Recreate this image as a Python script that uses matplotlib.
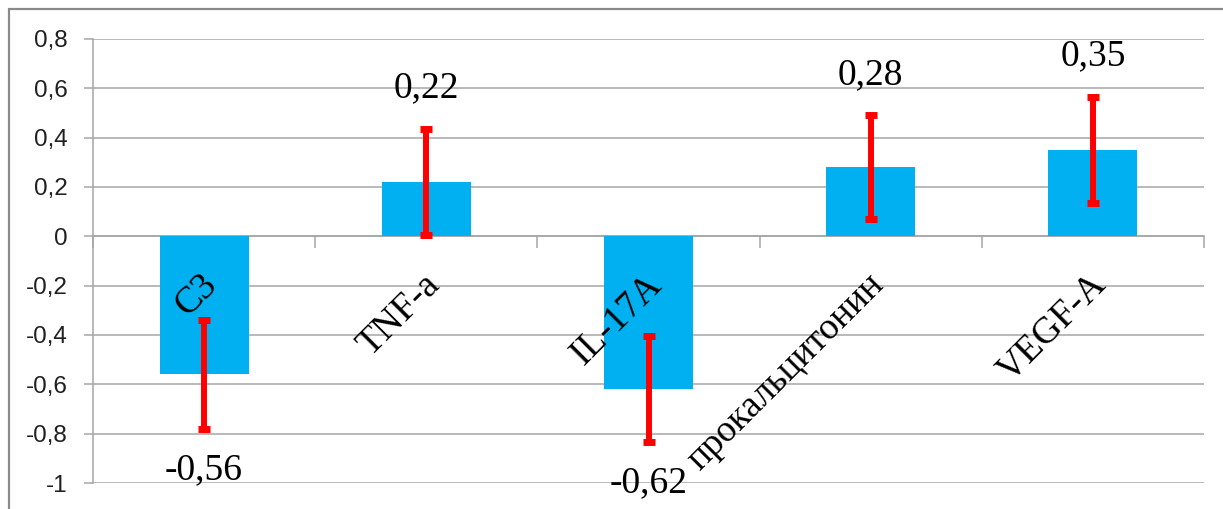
import matplotlib
matplotlib.use("Agg")
import matplotlib.pyplot as plt
from matplotlib.patches import Rectangle
from matplotlib.ticker import FixedLocator

categories = ["C3", "TNF-a", "IL-17A", "прокальцитонин", "VEGF-A"]
values = [-0.56, 0.22, -0.62, 0.28, 0.35]
errors = [0.22, 0.215, 0.215, 0.21, 0.215]
value_labels = ["-0,56", "0,22", "-0,62", "0,28", "0,35"]
yticks = [-1, -0.8, -0.6, -0.4, -0.2, 0, 0.2, 0.4, 0.6, 0.8]
ytick_labels = ["-1", "-0,8", "-0,6", "-0,4", "-0,2", "0", "0,2", "0,4", "0,6", "0,8"]

W, H = 1223, 509
fig = plt.figure(figsize=(W / 100, H / 100), dpi=100)
fig.patch.set_facecolor("white")

# outer chart frame (left and top visible, rest beyond image)
fig.patches.append(Rectangle((9 / W, -0.2), 1.5, (H - 9) / H + 0.2,
                             transform=fig.transFigure, fill=False,
                             edgecolor="#8a8a8a", linewidth=1.6, zorder=0))

ax = fig.add_axes([93 / W, (H - 483) / H, (1204 - 93) / W, (483 - 39) / H])
ax.set_facecolor("none")

grid_c = "#a6a6a6"
x = list(range(len(categories)))
ax.bar(x, values, width=0.4, color="#00B0F0", zorder=2)
ax.errorbar(x, values, yerr=errors, fmt="none", ecolor="#FF0000",
            elinewidth=4.3, capsize=4.5, capthick=5, zorder=3)

ax.set_xlim(-0.5, len(categories) - 0.5)
ax.set_ylim(-1, 0.8)
ax.set_yticks(yticks)
ax.set_yticklabels(ytick_labels, fontfamily="Liberation Sans", fontsize=17.5,
                   color="#202020")
ax.yaxis.grid(True, color=grid_c, linewidth=1.1, zorder=1)
ax.set_axisbelow(True)
ax.tick_params(axis="y", length=6.5, width=1.1, color=grid_c, pad=12)

for s in ["top", "right"]:
    ax.spines[s].set_visible(False)
ax.spines["left"].set_color(grid_c)
ax.spines["left"].set_linewidth(1.1)
ax.spines["bottom"].set_position(("data", 0))
ax.spines["bottom"].set_color(grid_c)
ax.spines["bottom"].set_linewidth(1.1)
ax.spines["bottom"].set_zorder(1)

ax.set_xticks(x)
ax.set_xticklabels([])
ax.xaxis.set_minor_locator(FixedLocator([i - 0.5 for i in range(len(categories) + 1)]))
ax.tick_params(axis="x", which="major", length=0)
ax.tick_params(axis="x", which="minor", length=8.5, width=1.1, color=grid_c, direction="out")

for i, lab in enumerate(categories):
    ax.annotate(lab, (i, 0), xytext=(-4, -31), textcoords="offset pixels",
                rotation=45, rotation_mode="anchor", ha="right", va="top",
                fontfamily="Liberation Serif", fontsize=27, zorder=5,
                annotation_clip=False)

for i, (v, e, lab) in enumerate(zip(values, errors, value_labels)):
    sign = 1 if v >= 0 else -1
    ax.annotate(lab, (i, v + sign * e), xytext=(0, sign * 41), textcoords="offset pixels",
                ha="center", va="center", fontfamily="Liberation Serif",
                fontsize=27, color="#000000", zorder=5, annotation_clip=False)

fig.savefig("out.png", dpi=100, facecolor="white")
